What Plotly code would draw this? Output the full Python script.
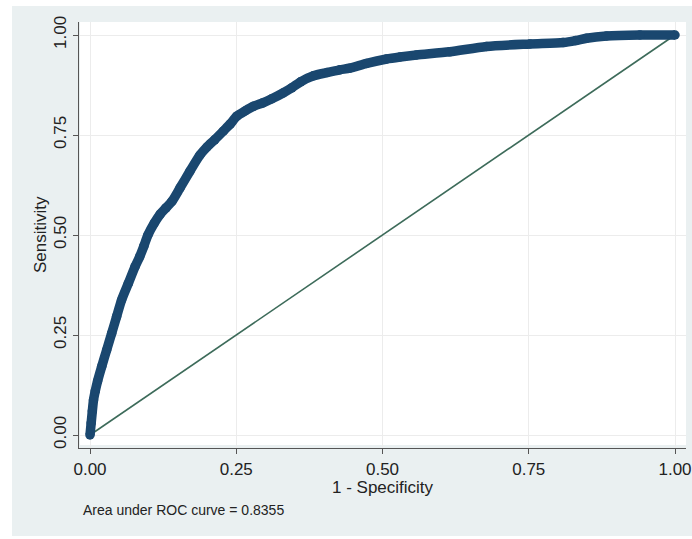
import plotly.graph_objects as go

# ROC curve
fpr = [0.0, 0.002, 0.004, 0.006, 0.009, 0.013, 0.020, 0.0285, 0.037, 0.0455,
       0.054, 0.0655, 0.077, 0.085, 0.092, 0.099, 0.110, 0.120, 0.130, 0.140,
       0.154, 0.171, 0.188, 0.200, 0.213, 0.228, 0.240, 0.251, 0.265, 0.280,
       0.295, 0.310, 0.330, 0.345, 0.360, 0.382, 0.405, 0.427, 0.444, 0.473,
       0.507, 0.530, 0.558, 0.615, 0.678, 0.752, 0.809, 0.830, 0.849, 0.883,
       0.940, 1.0]
tpr = [0.0, 0.030, 0.060, 0.0875, 0.110, 0.135, 0.171, 0.2125, 0.254, 0.296,
       0.3375, 0.379, 0.421, 0.446, 0.472, 0.500, 0.530, 0.552, 0.568, 0.584,
       0.618, 0.660, 0.700, 0.720, 0.738, 0.760, 0.778, 0.797, 0.810, 0.822,
       0.830, 0.840, 0.855, 0.868, 0.883, 0.898, 0.906, 0.913, 0.917, 0.929,
       0.940, 0.945, 0.950, 0.958, 0.9715, 0.9775, 0.981, 0.986, 0.992, 0.9975,
       1.0, 1.0]

ref_x = [0.0, 1.0]
ref_y = [0.0, 1.0]

tick_vals = [0.0, 0.25, 0.5, 0.75, 1.0]
tick_text = ["0.00", "0.25", "0.50", "0.75", "1.00"]

x_title = "1 - Specificity"
y_title = "Sensitivity"
auc_note = "Area under ROC curve = 0.8355"

W, H = 692, 539
L, R, T, B = 79, 6, 22, 91
pw, ph = W - L - R, H - T - B

def px_x(p):
    return (p - L) / pw

def px_y(p):
    return (H - B - p) / ph

NAVY = "#1a476f"
GREEN = "#3d6b5a"
BOX = "#eaf0f1"
FONT = "Liberation Sans, Arial, sans-serif"

fig = go.Figure()
fig.add_trace(go.Scatter(x=ref_x, y=ref_y, mode="lines",
                         line=dict(color=GREEN, width=1.6),
                         hoverinfo="skip", showlegend=False))
fig.add_trace(go.Scatter(x=fpr, y=tpr, mode="lines+markers",
                         line=dict(color=NAVY, width=9.5, shape="spline", smoothing=0.7),
                         marker=dict(color=NAVY, size=9.5),
                         showlegend=False))

fig.update_layout(
    width=W, height=H,
    margin=dict(l=L, r=R, t=T, b=B, pad=0, autoexpand=False),
    paper_bgcolor="white", plot_bgcolor="white",
    font=dict(family=FONT, color="#222222"),
    shapes=[dict(type="rect", xref="paper", yref="paper",
                 x0=px_x(12), x1=px_x(W + 2), y0=px_y(536), y1=px_y(6),
                 fillcolor=BOX, line=dict(width=0), layer="below"),
            dict(type="rect", xref="paper", yref="paper",
                 x0=px_x(80), x1=px_x(686), y0=px_y(445), y1=px_y(22),
                 fillcolor="white", line=dict(width=0), layer="below")],
    annotations=[
        dict(text=x_title, xref="paper", yref="paper", x=px_x(383), y=px_y(487),
             xanchor="center", yanchor="middle", showarrow=False,
             font=dict(size=17, family=FONT, color="#222222")),
        dict(text=y_title, xref="paper", yref="paper", x=px_x(40), y=px_y(235),
             xanchor="center", yanchor="middle", showarrow=False, textangle=-90,
             font=dict(size=17, family=FONT, color="#222222")),
        dict(text=auc_note, xref="paper", yref="paper", x=px_x(81), y=px_y(510),
             xanchor="left", yanchor="middle", showarrow=False,
             font=dict(size=14, family=FONT, color="#222222")),
    ],
)

x0 = (L - 90) / 585
x1 = (W - R - 90) / 585
y0 = (435 - (H - B)) / 400
y1 = (435 - T) / 400

fig.update_xaxes(range=[x0, x1], tickvals=tick_vals, ticktext=tick_text,
                 automargin=False,
                 showgrid=True, gridcolor="#ececec", gridwidth=1, zeroline=False,
                 showline=True, linecolor="#555555", linewidth=1.3,
                 ticks="outside", ticklen=5, tickcolor="#555555",
                 tickfont=dict(size=17, family=FONT, color="#222222"))
fig.update_yaxes(range=[y0, y1], tickvals=tick_vals, ticktext=tick_text,
                 automargin=False,
                 showgrid=True, gridcolor="#ececec", gridwidth=1, zeroline=False,
                 showline=True, linecolor="#555555", linewidth=1.3,
                 ticks="outside", ticklen=5, tickcolor="#555555", tickangle=-90,
                 tickfont=dict(size=17, family=FONT, color="#222222"))

fig.write_html("out.html",
               config={"displayModeBar": False},
               post_script="document.body.style.margin='0px';"
                           "document.body.style.overflow='hidden';")
